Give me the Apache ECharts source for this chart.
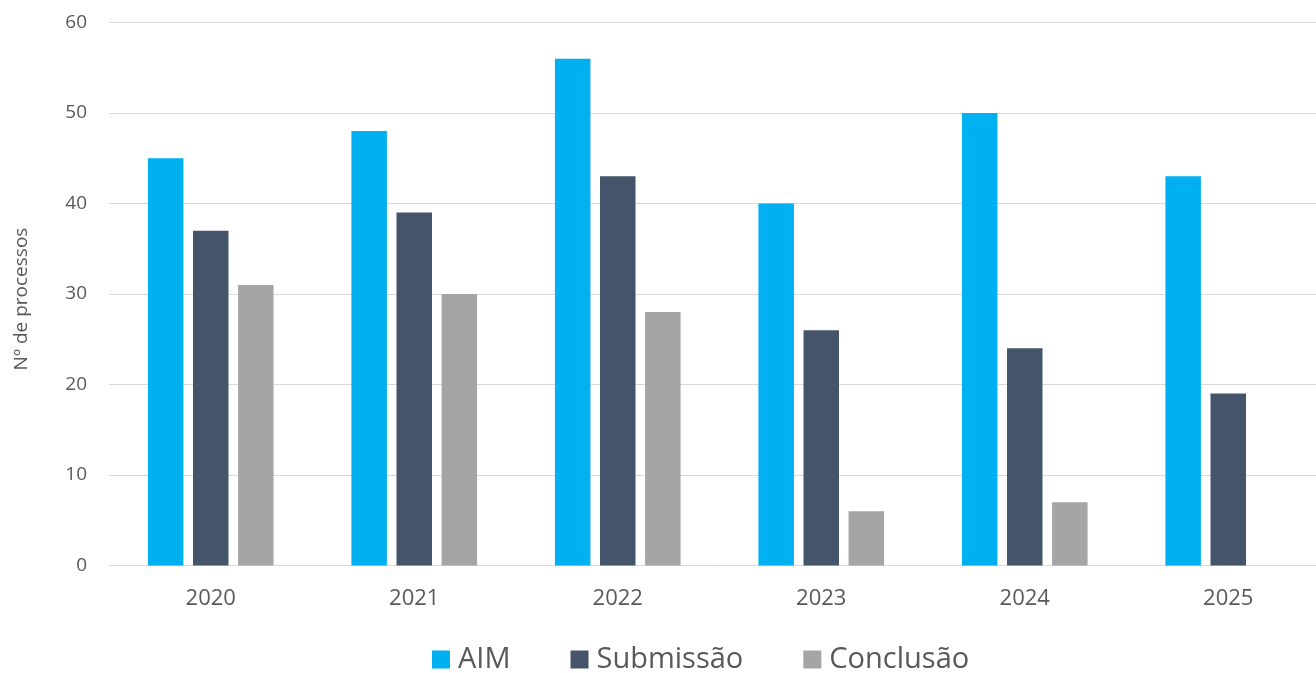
<!DOCTYPE html>
<html><head><meta charset="utf-8">
<script src="https://cdn.jsdelivr.net/npm/echarts@6/dist/echarts.min.js"></script>
<style>html,body{margin:0;padding:0;background:#fff;overflow:hidden}#c{width:1332px;height:673px}</style>
</head><body><div id="c"></div>
<script>
const categories = ['2020','2021','2022','2023','2024','2025'];
const aim = [45, 48, 56, 40, 50, 43];
const submissao = [37, 39, 43, 26, 24, 19];
const conclusao = [31, 30, 28, 6, 7, null];
const seriesNames = ['AIM','Submissão','Conclusão'];
const yTicks = {min: 0, max: 60, interval: 10};
const font = '"Open Sans", sans-serif';
const chart = echarts.init(document.getElementById('c'));
chart.setOption({
  animation: false,
  textStyle: {fontFamily: font},
  grid: {left: 109, top: 22.5, width: 1221, height: 543},
  legend: {
    bottom: -6, left: 427,
    itemWidth: 18, itemHeight: 18, itemGap: 60,
    icon: 'rect',
    textStyle: {fontSize: 29, color: '#595959', fontFamily: font, padding: [0, 0, 0, 3]},
    data: seriesNames
  },
  xAxis: {
    type: 'category', data: categories,
    axisLine: {lineStyle: {color: '#d9d9d9', width: 1}},
    axisTick: {show: false},
    axisLabel: {fontSize: 22, color: '#595959', margin: 22, fontFamily: font}
  },
  yAxis: {
    type: 'value', min: yTicks.min, max: yTicks.max, interval: yTicks.interval,
    name: 'Nº de processos', nameLocation: 'middle', nameGap: 78,
    nameTextStyle: {fontSize: 19, color: '#595959', fontFamily: font, padding: [0, 0, 0, -10]},
    axisLine: {show: false}, axisTick: {show: false},
    axisLabel: {fontSize: 19, color: '#595959', margin: 22, fontFamily: font},
    splitLine: {lineStyle: {color: '#d9d9d9', width: 1}}
  },
  series: [
    {name: seriesNames[0], type: 'bar', data: aim, barWidth: 35.5, barGap: '27%', itemStyle: {color: '#00b0f0'}},
    {name: seriesNames[1], type: 'bar', data: submissao, barWidth: 35.5, barGap: '27%', itemStyle: {color: '#44546a'}},
    {name: seriesNames[2], type: 'bar', data: conclusao, barWidth: 35.5, barGap: '27%', itemStyle: {color: '#a5a5a5'}}
  ]
});
</script></body></html>
